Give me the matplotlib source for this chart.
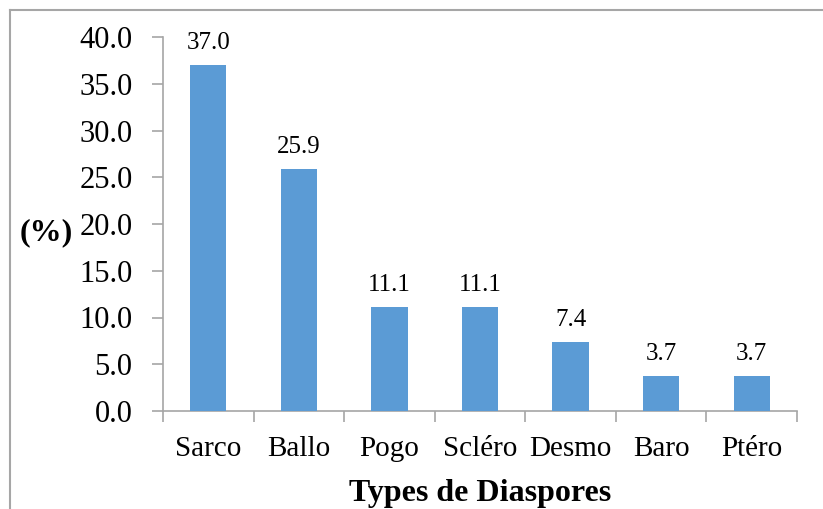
import matplotlib
matplotlib.use("Agg")
import matplotlib.pyplot as plt
from matplotlib.lines import Line2D

# data
categories = ["Sarco", "Ballo", "Pogo", "Scléro", "Desmo", "Baro", "Ptéro"]
percents = [37.0, 25.9, 11.1, 11.1, 7.4, 3.7, 3.7]

plt.rcParams['font.family'] = ['Liberation Serif', 'DejaVu Serif']

W, H = 823, 509
fig = plt.figure(figsize=(W / 100, H / 100), dpi=100)
ax = fig.add_axes([163 / W, 1 - 411 / H, (797 - 163) / W, (411 - 37) / H])

x = list(range(len(categories)))
bars = ax.bar(x, percents, width=0.4, color='#5B9BD5', zorder=3)

for b, v in zip(bars, percents):
    ax.text(b.get_x() + b.get_width() / 2, v + 1.2, f"{v:.1f}",
            ha='center', va='bottom', fontsize=18)

ax.set_xlim(-0.5, len(categories) - 0.5)
ax.set_ylim(0, 40)
ax.set_yticks([0, 5, 10, 15, 20, 25, 30, 35, 40])
ax.set_yticklabels([f"{t:.1f}" for t in ax.get_yticks()], fontsize=22)

# category labels centred, tick marks between categories
ax.set_xticks(x)
ax.set_xticklabels(categories, fontsize=21)
ax.tick_params(axis='x', length=0, pad=18)
ax.set_xticks([i - 0.5 for i in range(len(categories) + 1)], minor=True)
ax.tick_params(axis='x', which='minor', length=8, color='#a6a6a6', width=1.2)
ax.tick_params(axis='y', length=8, color='#a6a6a6', width=1.2, pad=14)

for side in ['top', 'right']:
    ax.spines[side].set_visible(False)
for side in ['left', 'bottom']:
    ax.spines[side].set_color('#a6a6a6')
    ax.spines[side].set_linewidth(1.2)

ax.set_xlabel("Types de Diaspores", fontsize=23, fontweight='bold', labelpad=12)
fig.text(20 / W, 1 - 233 / H, "(%)", fontsize=23, fontweight='bold',
         ha='left', va='center')

# outer chart frame (cut at right and bottom)
fig.add_artist(Line2D([10 / W, 10 / W], [1 - 10 / H, 0], transform=fig.transFigure,
                      color='#a6a6a6', lw=1.5))
fig.add_artist(Line2D([10 / W, 1], [1 - 10 / H, 1 - 10 / H], transform=fig.transFigure,
                      color='#a6a6a6', lw=1.5))

fig.savefig("out.png", dpi=100)
